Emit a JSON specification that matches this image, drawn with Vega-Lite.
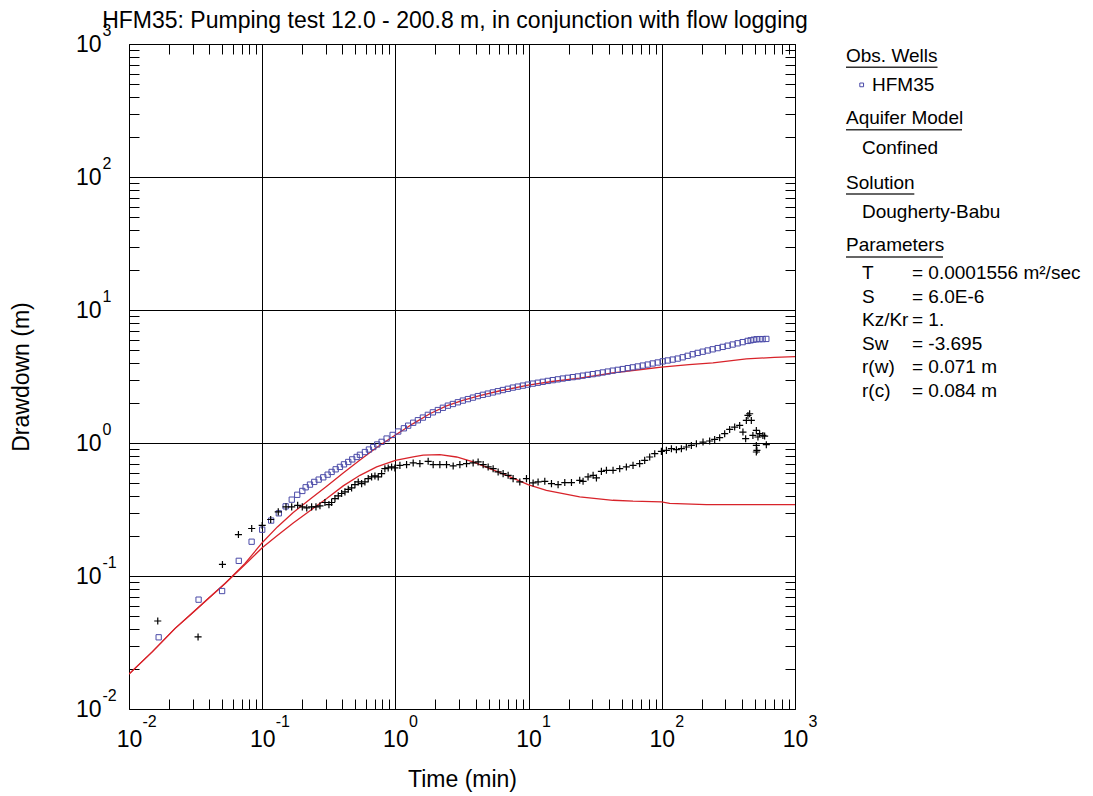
{
  "$schema": "https://vega.github.io/schema/vega-lite/v6.json",
  "background": "white",
  "padding": {"left": 9, "top": 9, "right": 5, "bottom": 5},
  "config": {
    "font": "Liberation Sans",
    "view": {"stroke": "black", "strokeWidth": 1},
    "axis": {"domain": false, "labelColor": "black", "titleColor": "black", "labelFont": "Liberation Sans", "titleFont": "Liberation Sans", "titleFontWeight": "normal"},
    "concat": {"spacing": 27}
  },
  "datasets": {
    "fit_drawdown": [
      {"t":0.01,"s":0.0183},{"t":0.015,"s":0.027},{"t":0.0222,"s":0.0404},{"t":0.0296,"s":0.0523},{"t":0.0394,"s":0.0678},{"t":0.0526,"s":0.0879},{"t":0.0743,"s":0.1245},{"t":0.1,"s":0.178},{"t":0.13,"s":0.234},{"t":0.171,"s":0.300},{"t":0.2284,"s":0.378},{"t":0.305,"s":0.473},{"t":0.4057,"s":0.595},{"t":0.542,"s":0.745},{"t":0.723,"s":0.925},{"t":1.0,"s":1.15},{"t":1.36,"s":1.40},{"t":1.815,"s":1.66},{"t":2.42,"s":1.90},{"t":3.2,"s":2.09},{"t":4.3,"s":2.27},{"t":6.0,"s":2.46},{"t":9.91,"s":2.72},{"t":15,"s":2.90},{"t":24.2,"s":3.07},{"t":43,"s":3.37},{"t":70,"s":3.57},{"t":99.3,"s":3.72},{"t":160,"s":3.88},{"t":242,"s":4.0},{"t":431,"s":4.29},{"t":700,"s":4.40},{"t":1000,"s":4.46}
    ],
    "fit_derivative": [
      {"t":0.01,"s":0.0183},{"t":0.015,"s":0.027},{"t":0.0222,"s":0.0404},{"t":0.0296,"s":0.0523},{"t":0.0394,"s":0.0678},{"t":0.0526,"s":0.0879},{"t":0.0743,"s":0.122},{"t":0.1,"s":0.163},{"t":0.1285,"s":0.200},{"t":0.171,"s":0.250},{"t":0.2284,"s":0.31},{"t":0.305,"s":0.382},{"t":0.4057,"s":0.476},{"t":0.542,"s":0.5715},{"t":0.723,"s":0.661},{"t":1.0,"s":0.740},{"t":1.36,"s":0.785},{"t":1.616,"s":0.812},{"t":2.157,"s":0.817},{"t":2.878,"s":0.785},{"t":3.833,"s":0.72},{"t":5.117,"s":0.641},{"t":6.83,"s":0.571},{"t":9.91,"s":0.486},{"t":13.6,"s":0.441},{"t":18.15,"s":0.417},{"t":24.2,"s":0.394},{"t":32.3,"s":0.382},{"t":43,"s":0.371},{"t":60.8,"s":0.365},{"t":99.3,"s":0.361},{"t":114.6,"s":0.351},{"t":216,"s":0.344},{"t":1000,"s":0.344}
    ],
    "obs_drawdown": [
      {"t":0.0167,"s":0.0346},{"t":0.0333,"s":0.0664},{"t":0.05,"s":0.0771},{"t":0.0667,"s":0.130},{"t":0.0833,"s":0.181},{"t":0.1,"s":0.223},{"t":0.1167,"s":0.261},{"t":0.1333,"s":0.296},{"t":0.15,"s":0.334},{"t":0.1667,"s":0.375},{"t":0.1833,"s":0.408},{"t":0.2,"s":0.436},
      {"t":0.212,"s":0.4645},{"t":0.2284,"s":0.4866},{"t":0.246,"s":0.5098},{"t":0.2655,"s":0.5305},{"t":0.2873,"s":0.552},{"t":0.31,"s":0.578},{"t":0.332,"s":0.606},{"t":0.356,"s":0.634},{"t":0.3834,"s":0.661},{"t":0.411,"s":0.691},{"t":0.4426,"s":0.72},{"t":0.4742,"s":0.753},{"t":0.5117,"s":0.785},{"t":0.5417,"s":0.815},{"t":0.5904,"s":0.855},{"t":0.6327,"s":0.893},{"t":0.6816,"s":0.932},{"t":0.7303,"s":0.975},{"t":0.788,"s":1.02},{"t":0.859,"s":1.08},{"t":0.953,"s":1.15},{"t":1.05,"s":1.22},{"t":1.158,"s":1.29},{"t":1.247,"s":1.35},{"t":1.36,"s":1.42},
      {"t":1.475,"s":1.483},{"t":1.608,"s":1.553},{"t":1.753,"s":1.628},{"t":1.911,"s":1.70},{"t":2.084,"s":1.769},{"t":2.272,"s":1.840},{"t":2.477,"s":1.909},{"t":2.701,"s":1.965},{"t":2.944,"s":2.024},{"t":3.21,"s":2.084},{"t":3.50,"s":2.138},{"t":3.815,"s":2.194},{"t":4.159,"s":2.252},{"t":4.534,"s":2.303},{"t":4.943,"s":2.351},{"t":5.388,"s":2.40},{"t":5.875,"s":2.451},{"t":6.404,"s":2.502},{"t":6.982,"s":2.555},{"t":7.612,"s":2.609},{"t":8.299,"s":2.654},{"t":9.048,"s":2.70},{"t":9.863,"s":2.747},{"t":10.75,"s":2.795},{"t":11.73,"s":2.839},{"t":12.78,"s":2.884},{"t":13.93,"s":2.929},{"t":15.19,"s":2.969},{"t":16.56,"s":3.01},{"t":18.06,"s":3.052},{"t":19.68,"s":3.09},{"t":21.46,"s":3.127},{"t":23.4,"s":3.165},{"t":25.51,"s":3.209},{"t":27.81,"s":3.253},{"t":30.32,"s":3.293},{"t":33.05,"s":3.339},{"t":36.04,"s":3.391},{"t":39.29,"s":3.444},{"t":42.83,"s":3.499},{"t":46.7,"s":3.548},{"t":50.9,"s":3.597},{"t":55.5,"s":3.653},{"t":60.5,"s":3.704},{"t":65.95,"s":3.762},{"t":71.9,"s":3.821},{"t":78.4,"s":3.887},{"t":85.46,"s":3.962},{"t":93.2,"s":4.031},{"t":101.6,"s":4.109},{"t":110.7,"s":4.173},{"t":120.7,"s":4.239},{"t":131.6,"s":4.312},{"t":143.5,"s":4.41},{"t":156.4,"s":4.525},{"t":170.5,"s":4.645},{"t":185.9,"s":4.758},{"t":202.7,"s":4.858},{"t":221.0,"s":4.96},{"t":240.9,"s":5.064},{"t":262.7,"s":5.17},{"t":286.4,"s":5.279},{"t":312.2,"s":5.39},{"t":340.3,"s":5.50},{"t":371.0,"s":5.617},{"t":404.5,"s":5.734},{"t":441.0,"s":5.855},{"t":464.5,"s":5.915},{"t":489.1,"s":5.977},{"t":515,"s":6.03},{"t":542.6,"s":6.04},{"t":571.5,"s":6.04},{"t":609.2,"s":6.06}
    ],
    "obs_derivative": [
      {"t":0.01644,"s":0.0459},{"t":0.033,"s":0.0348},{"t":0.0503,"s":0.1222},{"t":0.0663,"s":0.205},{"t":0.0834,"s":0.2275},{"t":0.1,"s":0.24},{"t":0.1158,"s":0.266},{"t":0.132,"s":0.3036},
      {"t":0.1509,"s":0.331},{"t":0.1665,"s":0.331},{"t":0.1846,"s":0.340},{"t":0.2,"s":0.331},{"t":0.216,"s":0.325},{"t":0.235,"s":0.331},{"t":0.2533,"s":0.331},{"t":0.2714,"s":0.337},{"t":0.2958,"s":0.357},{"t":0.317,"s":0.344},{"t":0.332,"s":0.357},{"t":0.3516,"s":0.382},{"t":0.3724,"s":0.4003},{"t":0.3948,"s":0.417},{"t":0.418,"s":0.429},{"t":0.4426,"s":0.4487},{"t":0.469,"s":0.4597},{"t":0.4968,"s":0.4866},{"t":0.526,"s":0.5098},{"t":0.5577,"s":0.495},{"t":0.5904,"s":0.5098},{"t":0.625,"s":0.5398},{"t":0.663,"s":0.556},{"t":0.702,"s":0.5656},{"t":0.743,"s":0.556},{"t":0.788,"s":0.5885},{"t":0.834,"s":0.641},{"t":0.883,"s":0.649},{"t":0.9365,"s":0.661},{"t":0.991,"s":0.649},{"t":1.081,"s":0.679},{"t":1.213,"s":0.6876},{"t":1.36,"s":0.708},{"t":1.527,"s":0.6995},{"t":1.762,"s":0.728},{"t":1.921,"s":0.6876},{"t":2.157,"s":0.6876},{"t":2.42,"s":0.6876},{"t":2.715,"s":0.672},{"t":3.048,"s":0.6876},{"t":3.42,"s":0.6995},{"t":3.833,"s":0.708},{"t":4.178,"s":0.72},{"t":4.558,"s":0.6876},{"t":4.97,"s":0.661},{"t":5.417,"s":0.641},{"t":5.906,"s":0.606},{"t":6.437,"s":0.5885},{"t":7.02,"s":0.5715},{"t":7.65,"s":0.5398},{"t":8.59,"s":0.5098},{"t":9.64,"s":0.5398},{"t":10.81,"s":0.501},{"t":11.78,"s":0.5098},{"t":13.23,"s":0.515},{"t":14.85,"s":0.495},{"t":16.65,"s":0.4866},{"t":18.69,"s":0.504},{"t":20.98,"s":0.504},{"t":24.2,"s":0.524},{"t":25.64,"s":0.515},{"t":27.95,"s":0.556},{"t":30.5,"s":0.5715},{"t":32.3,"s":0.546},{"t":35.2,"s":0.612},{"t":38.4,"s":0.623},{"t":43.05,"s":0.623},{"t":48.3,"s":0.641},{"t":54.2,"s":0.661},{"t":60.8,"s":0.679},{"t":68.2,"s":0.6995},{"t":74.4,"s":0.74},{"t":81.1,"s":0.785},{"t":88.5,"s":0.831},{"t":99.3,"s":0.865},{"t":108.3,"s":0.88},{"t":118.1,"s":0.906},{"t":128.7,"s":0.891},{"t":140.3,"s":0.906},{"t":152.9,"s":0.933},{"t":166.7,"s":0.959},{"t":181.8,"s":0.988},{"t":203.9,"s":1.017},{"t":228.7,"s":1.035},{"t":249.4,"s":1.064},{"t":271.9,"s":1.096},{"t":296.5,"s":1.175},{"t":323.2,"s":1.265},{"t":352.4,"s":1.318},{"t":384.2,"s":1.355},{"t":406.6,"s":1.209},{"t":426.1,"s":1.077},{"t":431.3,"s":1.477},{"t":443.4,"s":1.611},{"t":456.5,"s":1.66},{"t":470,"s":1.477},{"t":483,"s":1.14},{"t":512.6,"s":1.243},{"t":527,"s":1.109},{"t":512.6,"s":0.959},{"t":517.6,"s":0.88},{"t":512.6,"s":0.856},{"t":542.6,"s":1.175},{"t":574,"s":1.14},{"t":591.6,"s":1.128},{"t":609.2,"s":0.971}
    ],
    "legend_text": [
      {"label":"Obs. Wells","col":0,"line":0.51},
      {"label":"HFM35","col":1.625,"line":1.74},
      {"label":"Aquifer Model","col":0,"line":3.15},
      {"label":"Confined","col":1,"line":4.43},
      {"label":"Solution","col":0,"line":5.91},
      {"label":"Dougherty-Babu","col":1,"line":7.15},
      {"label":"Parameters","col":0,"line":8.55},
      {"label":"T","col":1,"line":9.74},{"label":"= 0.0001556 m²/sec","col":4.125,"line":9.74},
      {"label":"S","col":1,"line":10.77},{"label":"= 6.0E-6","col":4.125,"line":10.77},
      {"label":"Kz/Kr","col":1,"line":11.74},{"label":"= 1.","col":4.125,"line":11.74},
      {"label":"Sw","col":1,"line":12.77},{"label":"= -3.695","col":4.125,"line":12.77},
      {"label":"r(w)","col":1,"line":13.74},{"label":"= 0.071 m","col":4.125,"line":13.74},
      {"label":"r(c)","col":1,"line":14.77},{"label":"= 0.084 m","col":4.125,"line":14.77}
    ],
    "legend_rules": [
      {"col":0,"col_end":5.72,"line":0.99},
      {"col":0,"col_end":7.25,"line":3.65},
      {"col":0,"col_end":4.27,"line":6.38},
      {"col":0,"col_end":6.06,"line":9.06}
    ],
    "legend_symbol": [{"col":0.98,"line":1.74}]
  },
  "hconcat": [
    {
      "width": 666,
      "height": 665,
      "title": {"text": "HFM35: Pumping test 12.0 - 200.8 m, in conjunction with flow logging", "fontSize": 23, "fontWeight": "normal", "font": "Liberation Sans", "color": "black", "frame": "group", "anchor": "middle", "offset": -11, "dx": -7},
      "layer": [
        {
          "data": {"name": "fit_drawdown"},
          "mark": {"type": "line", "color": "#d8232a", "strokeWidth": 1.3, "clip": true},
          "encoding": {
            "x": {"field": "t", "type": "quantitative", "scale": {"type": "log", "domain": [0.01, 1000], "nice": false},
              "axis": {"orient": "bottom", "values": [0.01, 0.1, 1, 10, 100, 1000], "grid": true, "gridColor": "black", "gridOpacity": 1, "gridWidth": 1, "ticks": false, "labelExpr": "'10'", "labelFontSize": 23, "labelAlign": "center", "labelBaseline": "alphabetic", "labelPadding": 37, "labelFlush": false, "labelOverlap": false, "title": "Time (min)", "titleFontSize": 23, "titleBaseline": "alphabetic", "titleY": 77}},
            "y": {"field": "s", "type": "quantitative", "scale": {"type": "log", "domain": [0.01, 1000], "nice": false},
              "axis": {"orient": "left", "values": [0.01, 0.1, 1, 10, 100, 1000], "grid": true, "gridColor": "black", "gridOpacity": 1, "gridWidth": 1, "ticks": false, "labelExpr": "'10'", "labelFontSize": 23, "labelAlign": "right", "labelBaseline": "middle", "labelPadding": 28, "labelFlush": false, "labelOverlap": false, "title": "Drawdown (m)", "titleFontSize": 23, "titleBaseline": "alphabetic", "titleX": -101}},
            "order": {"field": "t", "type": "quantitative"}
          }
        },
        {
          "data": {"name": "fit_derivative"},
          "mark": {"type": "line", "color": "#d8232a", "strokeWidth": 1.3, "clip": true},
          "encoding": {
            "x": {"field": "t", "type": "quantitative", "scale": {"type": "log", "domain": [0.01, 1000], "nice": false},
              "axis": {"orient": "bottom", "values": [0.01, 0.1, 1, 10, 100, 1000], "grid": false, "ticks": false, "labelExpr": "'' + round(log(datum.value) / LN10)", "labelFontSize": 16, "labelAlign": "left", "labelBaseline": "alphabetic", "labelPadding": 17, "labelOffset": 13, "labelFlush": false, "labelOverlap": false, "title": null}},
            "y": {"field": "s", "type": "quantitative", "scale": {"type": "log", "domain": [0.01, 1000], "nice": false},
              "axis": {"orient": "left", "values": [0.01, 0.1, 1, 10, 100, 1000], "grid": false, "ticks": false, "labelExpr": "'' + round(log(datum.value) / LN10)", "labelFontSize": 16, "labelAlign": "left", "labelBaseline": "alphabetic", "labelPadding": 27, "labelOffset": -9, "labelFlush": false, "labelOverlap": false, "title": null}},
            "order": {"field": "t", "type": "quantitative"}
          }
        },
        {
          "data": {"name": "obs_drawdown"},
          "mark": {"type": "point", "shape": "square", "filled": false, "stroke": "#4b4ba8", "strokeWidth": 1, "size": 28, "opacity": 1},
          "encoding": {
            "x": {"field": "t", "type": "quantitative", "scale": {"type": "log", "domain": [0.01, 1000], "nice": false},
              "axis": {"orient": "bottom", "values": [0.02,0.03,0.04,0.05,0.06,0.07,0.08,0.09,0.2,0.3,0.4,0.5,0.6,0.7,0.8,0.9,2,3,4,5,6,7,8,9,20,30,40,50,60,70,80,90,200,300,400,500,600,700,800,900], "grid": false, "ticks": true, "tickSize": -10, "tickColor": "black", "tickWidth": 1, "labels": false, "title": null}},
            "y": {"field": "s", "type": "quantitative", "scale": {"type": "log", "domain": [0.01, 1000], "nice": false},
              "axis": {"orient": "left", "values": [0.02,0.03,0.04,0.05,0.06,0.07,0.08,0.09,0.2,0.3,0.4,0.5,0.6,0.7,0.8,0.9,2,3,4,5,6,7,8,9,20,30,40,50,60,70,80,90,200,300,400,500,600,700,800,900], "grid": false, "ticks": true, "tickSize": -10, "tickColor": "black", "tickWidth": 1, "labels": false, "title": null}}
          }
        },
        {
          "data": {"name": "obs_derivative"},
          "mark": {"type": "point", "shape": "M-1,0H1M0,-1V1", "filled": false, "stroke": "black", "strokeWidth": 1.2, "size": 50, "opacity": 1},
          "encoding": {
            "x": {"field": "t", "type": "quantitative", "scale": {"type": "log", "domain": [0.01, 1000], "nice": false},
              "axis": {"orient": "top", "values": [0.02,0.03,0.04,0.05,0.06,0.07,0.08,0.09,0.2,0.3,0.4,0.5,0.6,0.7,0.8,0.9,2,3,4,5,6,7,8,9,20,30,40,50,60,70,80,90,200,300,400,500,600,700,800,900], "grid": false, "ticks": true, "tickSize": -10, "tickColor": "black", "tickWidth": 1, "labels": false, "title": null}},
            "y": {"field": "s", "type": "quantitative", "scale": {"type": "log", "domain": [0.01, 1000], "nice": false},
              "axis": {"orient": "right", "values": [0.02,0.03,0.04,0.05,0.06,0.07,0.08,0.09,0.2,0.3,0.4,0.5,0.6,0.7,0.8,0.9,2,3,4,5,6,7,8,9,20,30,40,50,60,70,80,90,200,300,400,500,600,700,800,900], "grid": false, "ticks": true, "tickSize": -10, "tickColor": "black", "tickWidth": 1, "labels": false, "title": null}}
          }
        }
      ],
      "resolve": {"axis": {"x": "independent", "y": "independent"}}
    },
    {
      "width": 240,
      "height": 665,
      "view": {"stroke": null},
      "layer": [
        {
          "data": {"name": "legend_text"},
          "mark": {"type": "text", "align": "left", "baseline": "middle", "fontSize": 19, "font": "Liberation Sans", "color": "black"},
          "encoding": {
            "x": {"field": "col", "type": "quantitative", "scale": {"domain": [0, 15], "nice": false}, "axis": null},
            "y": {"field": "line", "type": "quantitative", "scale": {"domain": [0, 28.3], "reverse": true, "nice": false}, "axis": null},
            "text": {"field": "label"}
          }
        },
        {
          "data": {"name": "legend_rules"},
          "mark": {"type": "rule", "color": "#333333", "strokeWidth": 1.5},
          "encoding": {
            "x": {"field": "col", "type": "quantitative", "scale": {"domain": [0, 15], "nice": false}, "axis": null},
            "x2": {"field": "col_end"},
            "y": {"field": "line", "type": "quantitative", "scale": {"domain": [0, 28.3], "reverse": true, "nice": false}, "axis": null}
          }
        },
        {
          "data": {"name": "legend_symbol"},
          "mark": {"type": "point", "shape": "square", "filled": false, "stroke": "#4b4ba8", "strokeWidth": 1, "size": 14, "opacity": 1},
          "encoding": {
            "x": {"field": "col", "type": "quantitative", "scale": {"domain": [0, 15], "nice": false}, "axis": null},
            "y": {"field": "line", "type": "quantitative", "scale": {"domain": [0, 28.3], "reverse": true, "nice": false}, "axis": null}
          }
        }
      ]
    }
  ]
}
